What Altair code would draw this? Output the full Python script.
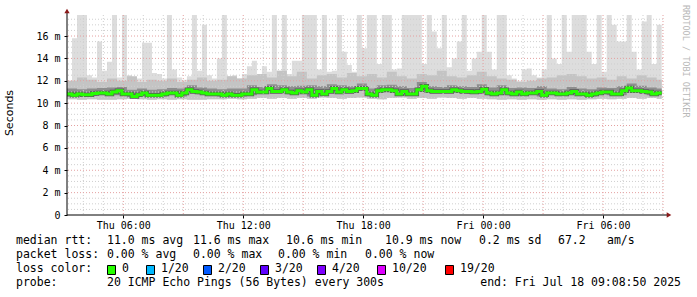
import altair as alt
import pandas as pd

MONO = "DejaVu Sans Mono"

# ---------------- data ----------------
START = pd.Timestamp("2025-07-17 03:11:00", tz="UTC")
END = pd.Timestamp("2025-07-18 09:00:00", tz="UTC")

# median RTT in ms, one value per 15 minutes
median_ms = [
    10.81, 10.70, 10.81, 10.75, 10.75, 10.87, 10.90, 10.90, 10.81, 10.99,
    11.10, 10.81, 10.81, 10.60, 10.75, 10.90, 10.70, 10.70, 10.70, 10.81,
    10.90, 10.90, 10.70, 10.90, 11.20, 11.05, 10.99, 10.90, 10.81, 10.81,
    10.81, 10.70, 10.81, 10.70, 10.70, 10.81, 10.81, 11.20, 10.99, 10.99,
    11.30, 11.05, 11.05, 11.20, 10.99, 10.90, 11.10, 10.99, 11.20, 10.70,
    11.05, 10.81, 11.05, 11.30, 10.99, 11.20, 11.05, 11.10, 11.30, 11.30,
    10.81, 10.70, 11.10, 11.20, 11.20, 11.10, 10.81, 11.05, 10.81, 10.81,
    11.20, 11.50, 11.10, 11.05, 11.05, 11.05, 11.05, 11.20, 11.10, 11.05,
    11.05, 10.99, 11.05, 11.25, 10.90, 10.81, 10.90, 11.20, 10.90, 10.81,
    10.99, 10.81, 10.90, 10.90, 11.05, 10.70, 10.90, 10.90, 10.81, 10.81,
    10.90, 11.05, 10.81, 10.81, 10.70, 10.81, 10.90, 10.99, 10.99, 10.81,
    10.81, 11.10, 11.35, 11.10, 11.10, 11.05, 10.99, 10.81, 10.90,
]

# slowest ping in ms, one value per 15 minutes
max_ms = [
    12.0, 15.8, 18.0, 18.0, 12.5, 12.3, 15.5, 12.9, 13.7, 18.0,
    12.3, 18.0, 12.5, 12.0, 12.2, 15.4, 15.4, 12.7, 12.6, 12.2,
    18.0, 13.0, 12.3, 12.1, 12.4, 18.0, 12.9, 17.0, 12.5, 12.2,
    14.0, 18.0, 12.4, 12.5, 12.2, 12.6, 13.3, 13.8, 12.3, 13.3,
    12.8, 18.0, 12.9, 18.0, 12.6, 13.8, 13.8, 18.0, 18.0, 18.0,
    13.0, 18.0, 12.8, 12.9, 18.0, 14.6, 13.4, 12.8, 18.0, 14.9,
    18.0, 18.0, 13.5, 18.0, 18.0, 13.0, 13.1, 18.0, 18.0, 18.0,
    18.0, 13.5, 18.0, 16.4, 14.9, 18.0, 13.2, 14.0, 15.5, 18.0,
    12.9, 14.0, 14.6, 18.0, 14.6, 13.0, 18.0, 18.0, 12.5, 12.2,
    12.0, 13.0, 13.1, 12.5, 12.3, 13.0, 18.0, 14.0, 13.5, 18.0,
    14.6, 18.0, 18.0, 18.0, 14.6, 13.5, 18.0, 12.8, 18.0, 17.0,
    15.5, 15.5, 18.0, 14.6, 13.0, 17.3, 18.0, 13.5, 17.0,
]

# fastest ping in ms, one value per 30 minutes
min_ms = [
    10.35, 10.30, 10.35, 10.30, 10.30, 10.35, 10.40, 10.35, 10.30, 10.35,
    10.30, 10.35, 10.30, 10.30, 10.35, 10.35, 10.40, 10.35, 10.40, 10.45,
    10.40, 10.45, 10.40, 10.45, 10.40, 10.50, 10.45, 10.40, 10.45, 10.50,
    10.40, 10.35, 10.45, 10.50, 10.40, 10.45, 10.40, 10.50, 10.45, 10.40,
    10.45, 10.40, 10.35, 10.30, 10.35, 10.30, 10.35, 10.30, 10.35, 10.30,
    10.35, 10.30, 10.35, 10.40, 10.35, 10.40, 10.45, 10.40, 10.45, 10.40,
]

# dense core of the smoke (lower / upper), one value per 30 minutes
core_lo_ms = [
    10.60, 10.65, 10.65, 10.80, 10.70, 10.70, 10.50, 10.65, 10.60, 10.60,
    10.80, 10.60, 10.95, 10.80, 10.70, 10.60, 10.60, 10.60, 10.70, 10.90,
    10.95, 10.95, 10.80, 10.90, 10.60, 10.70, 10.95, 10.90, 10.95, 11.10,
    10.60, 10.95, 10.95, 10.70, 10.70, 11.05, 10.95, 10.95, 10.95, 10.95,
    10.85, 10.90, 10.70, 10.80, 10.70, 10.70, 10.80, 10.60, 10.80, 10.70,
    10.80, 10.70, 10.60, 10.80, 10.70, 10.70, 11.00, 10.95, 10.70, 10.80,
]
core_hi_ms = [
    11.30, 11.25, 11.30, 11.35, 11.40, 11.45, 11.20, 11.30, 11.20, 11.25,
    11.35, 11.30, 11.60, 11.40, 11.30, 11.25, 11.30, 11.30, 11.60, 11.45,
    11.70, 11.60, 11.50, 11.55, 11.60, 11.50, 11.70, 11.60, 11.50, 11.75,
    11.30, 11.60, 11.65, 11.50, 11.35, 11.90, 11.50, 11.45, 11.60, 11.50,
    11.45, 11.70, 11.40, 11.60, 11.35, 11.40, 11.35, 11.50, 11.30, 11.25,
    11.45, 11.30, 11.25, 11.40, 11.35, 11.50, 11.75, 11.55, 11.40, 11.30,
]
# upper edge of the medium smoke, one value per 30 minutes
mid_hi_ms = [
    12.0, 12.3, 12.1, 11.9, 12.2, 12.0, 12.4, 11.9, 12.1, 12.0,
    12.2, 11.9, 12.1, 12.3, 12.0, 12.1, 12.4, 12.2, 12.5, 12.6,
    12.3, 12.9, 12.4, 12.8, 12.2, 12.5, 12.6, 12.3, 12.7, 12.4,
    12.6, 12.3, 12.8, 12.4, 12.2, 12.6, 12.5, 12.9, 12.4, 12.3,
    12.5, 12.8, 12.4, 12.2, 12.1, 11.9, 12.0, 12.2, 12.3, 12.5,
    12.6, 12.4, 12.2, 12.3, 12.1, 12.4, 12.2, 12.5, 12.3, 12.1,
]

y_ticks = [0, 2, 4, 6, 8, 10, 12, 14, 16]
x_tick_times = ["2025-07-17 06:00", "2025-07-17 12:00", "2025-07-17 18:00",
                "2025-07-18 00:00", "2025-07-18 06:00"]

legend_line1 = ["median rtt:", "11.0 ms avg", "11.6 ms max", "10.6 ms min",
                "10.9 ms now", "0.2 ms sd", "67.2", "am/s"]
legend_line2 = ["packet loss:", "0.00 % avg", "0.00 % max", "0.00 % min", "0.00 % now"]
loss_labels = ["0", "1/20", "2/20", "3/20", "4/20", "10/20", "19/20"]
loss_colors = ["#26ff00", "#00b8ff", "#0059ff", "#5e00ff", "#7e00ff", "#dd00ff", "#ff0000"]
probe_text = "20 ICMP Echo Pings (56 Bytes) every 300s"
end_text = "end: Fri Jul 18 09:08:50 2025"

# ---------------- layout ----------------
PL, PT = 67, 15          # plot area origin in the page
W, H = 596, 200
YMAX = 17.88


def ms(ts):
    ts = pd.Timestamp(ts)
    if ts.tzinfo is None:
        ts = ts.tz_localize("UTC")
    return int(ts.value // 10**6)


data_end = START + pd.Timedelta(minutes=15 * len(median_ms))
fine_t = [ms(START + pd.Timedelta(minutes=15 * i)) for i in range(len(median_ms))] + [ms(data_end)]
coarse_t = [ms(START + pd.Timedelta(minutes=30 * j)) for j in range(len(min_ms))] + [ms(data_end)]

fine = pd.DataFrame({
    "t": fine_t,
    "median": median_ms + [median_ms[-1]],
    "max": max_ms + [max_ms[-1]],
    "min": [min_ms[i // 2] for i in range(len(median_ms))] + [min_ms[-1]],
})
coarse = pd.DataFrame({
    "t": coarse_t,
    "min": min_ms + [min_ms[-1]],
    "clo": core_lo_ms + [core_lo_ms[-1]],
    "chi": core_hi_ms + [core_hi_ms[-1]],
    "mhi": mid_hi_ms + [mid_hi_ms[-1]],
})

xscale = alt.Scale(type="utc", domain=[ms(START), ms(END)])
yscale = alt.Scale(domain=[0, YMAX], nice=False, zero=False)

XAXIS = alt.Axis(
    values=[ms(v) for v in x_tick_times],
    labelExpr="utcFormat(datum.value, '%a %H:%M')",
    labelFont=MONO, labelFontSize=10, labelColor="black",
    domain=False, grid=False, ticks=True, tickSize=3, tickColor="black",
    labelPadding=2, title=None, labelFlush=False, labelOverlap=False)
YAXIS = alt.Axis(
    values=y_ticks, labelExpr="datum.value == 0 ? '0' : datum.value + ' m'",
    labelFont=MONO, labelFontSize=10, labelColor="black",
    domain=False, grid=False, ticks=True, tickSize=3, tickColor="black",
    labelPadding=4, title=None, labelFlush=False, labelOverlap=False)


def X():
    return alt.X("t:T", scale=xscale, axis=XAXIS)


def Y(field):
    return alt.Y(field, scale=yscale, axis=YAXIS)


smoke_light = alt.Chart(fine).mark_area(interpolate="step-after", color="#dddddd", clip=True).encode(
    x=X(), y=Y("min:Q"), y2="max:Q")
smoke_mid = alt.Chart(coarse).mark_area(interpolate="step-after", color="#c4c4c4", clip=True).encode(
    x=X(), y=Y("min:Q"), y2="mhi:Q")
smoke_core = alt.Chart(coarse).mark_area(interpolate="step-after", color="#8e8e8e", clip=True).encode(
    x=X(), y=Y("clo:Q"), y2="chi:Q")
median_shadow = alt.Chart(fine).mark_line(interpolate="step-after", color="#5a5a5a", strokeWidth=4.5,
                                          clip=True).encode(x=X(), y=Y("median:Q"))
median_line = alt.Chart(fine).mark_line(interpolate="step-after", color="#26ff00", strokeWidth=3,
                                        clip=True).encode(x=X(), y=Y("median:Q"))

# grid
hours = pd.date_range("2025-07-17 04:00", "2025-07-18 09:00", freq="1h")
minor_t = [ms(h) for h in hours if h.hour % 3 != 0]
major_t = [ms(h) for h in hours if h.hour % 3 == 0]
minor_y = [v / 2 for v in range(1, 36) if v % 4 != 0]
major_y = [v for v in range(2, 18, 2)]

GREY = "#cfcfcf"
RED = "#e4a0a0"
grid = [
    alt.Chart(pd.DataFrame({"t": minor_t})).mark_rule(color=GREY, strokeDash=[1, 2], strokeWidth=1).encode(x=X()),
    alt.Chart(pd.DataFrame({"v": minor_y})).mark_rule(color=GREY, strokeDash=[1, 2], strokeWidth=1).encode(
        y=Y("v:Q")),
    alt.Chart(pd.DataFrame({"t": major_t})).mark_rule(color=RED, strokeDash=[1, 2], strokeWidth=1).encode(x=X()),
    alt.Chart(pd.DataFrame({"v": major_y})).mark_rule(color=RED, strokeDash=[1, 2], strokeWidth=1).encode(
        y=Y("v:Q")),
]

one = pd.DataFrame({"a": [0]})

# axis lines and arrows
axes = [
    alt.Chart(one).mark_rule(color="black", strokeWidth=1).encode(
        x=alt.value(0), y=alt.value(-4), y2=alt.value(H)),
    alt.Chart(one).mark_rule(color="black", strokeWidth=1).encode(
        x=alt.value(0), x2=alt.value(W + 4), y=alt.value(H)),
    alt.Chart(one).mark_point(shape="triangle-up", filled=True, color="#8b1a1a", size=28, opacity=1).encode(
        x=alt.value(0), y=alt.value(-4)),
    alt.Chart(one).mark_point(shape="triangle-right", filled=True, color="#8b1a1a", size=28, opacity=1).encode(
        x=alt.value(W + 6), y=alt.value(H)),
]


def text(s, x, y, size=11.5, align="left", color="black", angle=0, font=MONO):
    return alt.Chart(pd.DataFrame({"s": [s]})).mark_text(
        align=align, baseline="middle", fontSize=size, font=font, color=color, angle=angle
    ).encode(x=alt.value(x - PL), y=alt.value(y - PT), text="s:N")


texts = [
    text("Seconds", 10, 113, size=11, angle=270, align="center", font="DejaVu Sans"),
    text("RRDTOOL / TOBI OETIKER", 686, 5, size=8.5, angle=90, color="#b8b8b8"),
]
line1_x = [16, 107, 193, 286, 385, 479, 558, 607]
for s, x in zip(legend_line1, line1_x):
    texts.append(text(s, x, 241))
line2_x = [16, 107, 193, 278, 365]
for s, x in zip(legend_line2, line2_x):
    texts.append(text(s, x, 255))
texts.append(text("loss color:", 16, 269))
box_x = [107, 146, 203, 260, 317, 377, 445]
for lab, col, bx in zip(loss_labels, loss_colors, box_x):
    texts.append(alt.Chart(one).mark_rect(fill=col, stroke="black", strokeWidth=1).encode(
        x=alt.value(bx - PL + 0.5), x2=alt.value(bx - PL + 8.5),
        y=alt.value(265 - PT + 0.5), y2=alt.value(274 - PT + 0.5)))
    texts.append(text(lab, bx + 15, 269))
texts.append(text("probe:", 16, 283))
texts.append(text(probe_text, 107, 283))
texts.append(text(end_text, 681, 283, align="right"))

chart = alt.layer(
    smoke_light, smoke_mid, smoke_core, median_shadow, *grid, median_line, *axes, *texts
).properties(
    width=W, height=H,
    autosize=alt.AutoSizeParams(type="none"),
    padding={"left": PL, "top": PT, "right": 697 - PL - W, "bottom": 297 - PT - H},
    background="white",
).configure_view(stroke=None)

chart.save("out.html", embed_options={"renderer": "svg", "actions": False})
